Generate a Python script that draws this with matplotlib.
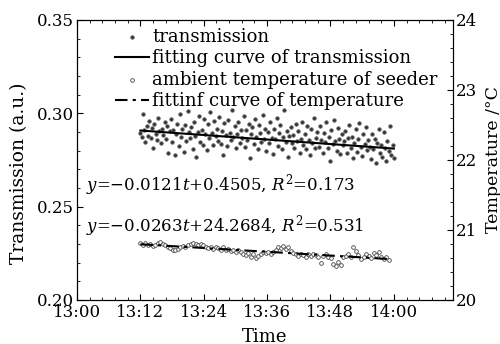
import matplotlib
matplotlib.use("Agg")
import matplotlib.pyplot as plt
import numpy as np
from matplotlib.ticker import MultipleLocator

plt.rcParams['font.family'] = ['DejaVu Serif']
plt.rcParams['mathtext.fontset'] = 'dejavuserif'

# transmission samples (a.u.), 13:12 -> 14:00
trans = [
    0.2895, 0.2872, 0.2998, 0.2911, 0.2846, 0.2934, 0.2880, 0.2957, 0.2869, 0.2923, 0.2812, 0.2941, 0.2890, 0.2858, 0.2976, 0.2903, 0.2839, 0.2917, 0.2884, 0.2951,
    0.2862, 0.2931, 0.2788, 0.2905, 0.2968, 0.2847, 0.2912, 0.2774, 0.2889, 0.2943, 0.2826, 0.2995, 0.2871, 0.2918, 0.2795, 0.2936, 0.2853, 0.3012, 0.2899, 0.2866,
    0.2927, 0.2809, 0.2953, 0.2878, 0.2764, 0.2902, 0.2986, 0.2845, 0.2913, 0.2832, 0.2971, 0.2887, 0.2806, 0.2940, 0.2868, 0.3005, 0.2894, 0.2829, 0.2958, 0.2876,
    0.2915, 0.2851, 0.2979, 0.2837, 0.2906, 0.2779, 0.2946, 0.2882, 0.2823, 0.2963, 0.2897, 0.2859, 0.3018, 0.2874, 0.2931, 0.2815, 0.2890, 0.2952, 0.2841, 0.2908,
    0.2867, 0.2985, 0.2820, 0.2913, 0.2858, 0.2942, 0.2763, 0.2889, 0.2926, 0.2835, 0.2969, 0.2872, 0.2811, 0.2937, 0.2893, 0.2846, 0.2990, 0.2861, 0.2918, 0.2799,
    0.2898, 0.2839, 0.2951, 0.2866, 0.2781, 0.2917, 0.2860, 0.2974, 0.2825, 0.2892, 0.2936, 0.2808, 0.2871, 0.3016, 0.2847, 0.2903, 0.2764, 0.2880, 0.2929, 0.2843,
    0.2882, 0.2816, 0.2941, 0.2851, 0.2907, 0.2788, 0.2864, 0.2955, 0.2829, 0.2891, 0.2807, 0.2933, 0.2856, 0.2774, 0.2918, 0.2843, 0.2977, 0.2812, 0.2870, 0.2899,
    0.2820, 0.2932, 0.2856, 0.2788, 0.2897, 0.2844, 0.2953, 0.2812, 0.2871, 0.2746, 0.2909, 0.2833, 0.2964, 0.2850, 0.2796, 0.2923, 0.2862, 0.2781, 0.2887, 0.2829,
    0.2849, 0.2903, 0.2788, 0.2867, 0.2936, 0.2812, 0.2875, 0.2759, 0.2841, 0.2914, 0.2795, 0.2862, 0.2947, 0.2821, 0.2773, 0.2888, 0.2836, 0.2928, 0.2804, 0.2856,
    0.2821, 0.2753, 0.2887, 0.2808, 0.2862, 0.2736, 0.2843, 0.2915, 0.2789, 0.2832, 0.2768, 0.2901, 0.2816, 0.2742, 0.2854, 0.2797, 0.2931, 0.2779, 0.2828, 0.2763,
]

# ambient temperature of seeder (deg C), 13:12 -> 13:59
temp = [
    20.81, 20.79, 20.82, 20.78, 20.80, 20.77, 20.79, 20.81, 20.83, 20.80, 20.78,
    20.76, 20.74, 20.72, 20.71, 20.73, 20.75, 20.77, 20.76, 20.79, 20.80,
    20.81, 20.80, 20.79, 20.80, 20.78, 20.76, 20.74, 20.75, 20.73, 20.76,
    20.74, 20.72, 20.75, 20.71, 20.73, 20.70, 20.72, 20.69, 20.71, 20.68,
    20.66, 20.64, 20.67, 20.62, 20.65, 20.60, 20.63, 20.66, 20.68, 20.67,
    20.69, 20.66, 20.68, 20.72, 20.76, 20.74, 20.77, 20.73, 20.75, 20.70,
    20.67, 20.65, 20.63, 20.66, 20.64, 20.62, 20.65, 20.63, 20.66, 20.64,
    20.61, 20.53, 20.63, 20.65, 20.62, 20.60, 20.51, 20.48, 20.54, 20.50,
    20.61, 20.63, 20.65, 20.62, 20.76, 20.70, 20.64, 20.58, 20.61, 20.66,
    20.63, 20.60, 20.67, 20.64, 20.69, 20.62, 20.59, 20.61, 20.57,
]

# minutes after 13:00
trans_start, trans_end = 12, 60
temp_start, temp_end = 12, 59
trans_fit = [-0.0121, 0.4505]   # t in hours
xtick_pos = [0, 12, 24, 36, 48, 60]
xtick_lab = ["13:00", "13:12", "13:24", "13:36", "13:48", "14:00"]

t_trans = np.linspace(trans_start, trans_end, len(trans))
t_temp = np.linspace(temp_start, temp_end, len(temp))

fig = plt.figure(figsize=(5, 3.44), dpi=100)
ax = fig.add_axes([0.154, 0.128, 0.752, 0.814])
ax2 = ax.twinx()

h1 = ax.scatter(t_trans, trans, s=7, facecolor='#333333', edgecolor='#777777', linewidths=0.5, zorder=3)
h2, = ax.plot(t_trans, np.polyval(trans_fit, 13 + t_trans / 60), 'k-', lw=1.5, zorder=4)
h3 = ax2.scatter(t_temp, temp, s=7, facecolor='white', edgecolor='#444444', linewidths=0.6, zorder=3)
c = np.polyfit(t_temp, temp, 1)
h4, = ax2.plot(t_temp, np.polyval(c, t_temp), color='k', ls='-.', lw=1.5, zorder=4)
h4.set_dashes([6, 2.5, 1.5, 2.5])

ax.set_xlim(0, 71.2)
ax.set_ylim(0.20, 0.35)
ax2.set_ylim(20, 24)
ax.set_xticks(xtick_pos)
ax.set_xticklabels(xtick_lab)
ax.xaxis.set_minor_locator(MultipleLocator(2.4))
ax.set_yticks([0.20, 0.25, 0.30, 0.35])
ax.set_yticklabels(["0.20", "0.25", "0.30", "0.35"])
ax.yaxis.set_minor_locator(MultipleLocator(0.01))
ax2.set_yticks([20, 21, 22, 23, 24])
ax2.yaxis.set_minor_locator(MultipleLocator(0.2))

ax.tick_params(which='both', direction='in', top=True, labelsize=12, pad=2)
ax.tick_params(which='major', length=4)
ax.tick_params(which='minor', length=2)
ax.tick_params(axis='x', pad=3)
ax2.tick_params(which='both', direction='in', labelsize=12, pad=2)
ax2.tick_params(which='major', length=4)
ax2.tick_params(which='minor', length=2)

ax.set_xlabel("Time", fontsize=13)
ax.xaxis.set_label_coords(0.5, -0.10)
ax.set_ylabel("Transmission (a.u.)", fontsize=13.5)
ax.yaxis.set_label_coords(-0.13, 0.454)
ax2.set_ylabel("Temperature /°C", fontsize=12.5)
ax2.yaxis.set_label_coords(1.085, 0.5)

ax.legend([h1, h2, h3, h4],
          ["transmission", "fitting curve of transmission",
           "ambient temperature of seeder", "fittinf curve of temperature"],
          loc='upper left', bbox_to_anchor=(0.101, 0.973), frameon=False, fontsize=13,
          handlelength=1.9, handletextpad=0.15, labelspacing=0.2,
          borderpad=0, borderaxespad=0)

ax.text(0.025, 0.39, r"$y$=−0.0121$t$+0.4505, $R^2$=0.173", transform=ax.transAxes, fontsize=12)
ax.text(0.025, 0.245, r"$y$=−0.0263$t$+24.2684, $R^2$=0.531", transform=ax.transAxes, fontsize=12)

fig.savefig("out.png", dpi=100)
